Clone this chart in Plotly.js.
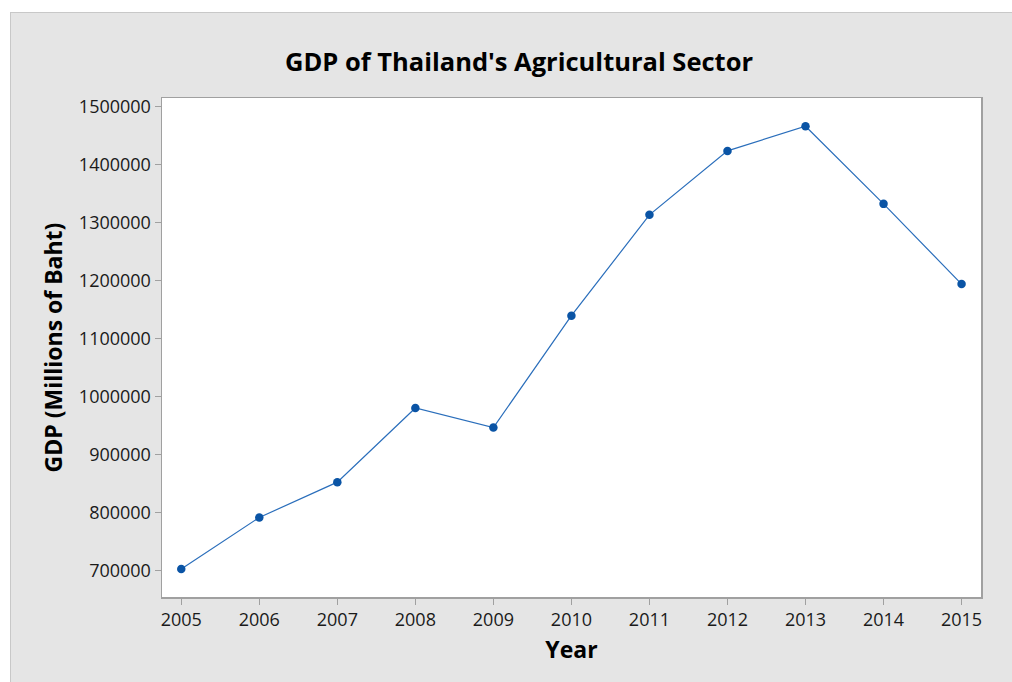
<!DOCTYPE html>
<html>
<head>
<meta charset="utf-8">
<script src="https://cdn.plot.ly/plotly-3.0.1.min.js"></script>
<style>
  html, body { margin: 0; padding: 0; background: #ffffff; width: 1012px; height: 682px; overflow: hidden; }
  #frame { position: absolute; left: 10px; top: 12px; width: 1001px; height: 669px;
           border-left: 1px solid #c8c8c8; border-top: 1px solid #c8c8c8; background: #e5e5e5; }
  #chart { width: 1001px; height: 669px; }
</style>
</head>
<body>
<div id="frame"><div id="chart"></div></div>
<script>
const years = [2005, 2006, 2007, 2008, 2009, 2010, 2011, 2012, 2013, 2014, 2015];
const gdp = [702400, 791300, 852200, 980100, 946200, 1139100, 1313000, 1423200, 1465700, 1331900, 1193600];
const yTicks = [700000, 800000, 900000, 1000000, 1100000, 1200000, 1300000, 1400000, 1500000];

const FONT = '"Open Sans", "Noto Sans", sans-serif';

const trace = {
  x: years,
  y: gdp,
  type: 'scatter',
  mode: 'lines+markers',
  line: { color: '#2a6ebb', width: 1.2 },
  marker: { color: '#0a54a5', size: 8.5 },
  hoverinfo: 'x+y'
};

const layout = {
  width: 1001,
  height: 669,
  paper_bgcolor: '#e5e5e5',
  plot_bgcolor: '#ffffff',
  margin: { l: 151, r: 31, t: 85, b: 85 },
  showlegend: false,
  font: { family: FONT, color: '#1a1a1a', size: 18 },
  title: {
    text: "GDP of Thailand's Agricultural Sector",
    font: { family: FONT, size: 25.5, color: '#000000', weight: 'bold' },
    xref: 'container', x: 0.5075, xanchor: 'center',
    yref: 'container', y: 0.927, yanchor: 'middle'
  },
  xaxis: {
    range: [2004.753, 2015.249],
    tickmode: 'array',
    tickvals: years,
    ticktext: years.map(String),
    ticks: 'outside', ticklen: 6, tickcolor: '#a0a0a0', tickwidth: 1,
    showgrid: false, zeroline: false,
    showline: true, linecolor: '#a0a0a0', linewidth: 1.5, mirror: true,
    tickfont: { family: FONT, size: 18, color: '#1a1a1a' },
    title: { text: 'Year', font: { family: FONT, size: 23, color: '#000000', weight: 'bold' }, standoff: 12 },
    automargin: false
  },
  yaxis: {
    range: [654200, 1514400],
    tickmode: 'array',
    tickvals: yTicks,
    ticktext: yTicks.map(String),
    ticks: 'outside', ticklen: 6, tickcolor: '#a0a0a0', tickwidth: 1,
    showgrid: false, zeroline: false,
    showline: true, linecolor: '#a0a0a0', linewidth: 1.5, mirror: true,
    tickfont: { family: FONT, size: 18, color: '#1a1a1a' },
    title: { text: 'GDP (Millions of Baht)', font: { family: FONT, size: 23, color: '#000000', weight: 'bold' }, standoff: 10 },
    automargin: false
  }
};

Plotly.newPlot('chart', [trace], layout, { displayModeBar: false, staticPlot: true });
</script>
</body>
</html>
